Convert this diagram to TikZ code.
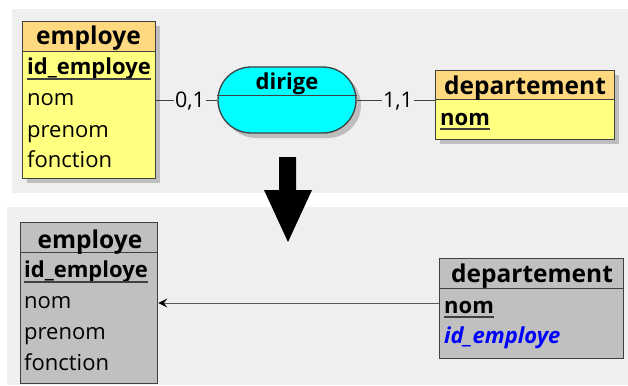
\documentclass[tikz,border=0pt]{standalone}
\usepackage{fontspec}
\setmainfont{Open Sans}
\usetikzlibrary{arrows.meta,shapes.misc}
\definecolor{bg}{HTML}{EFEFEF}
\definecolor{hdr}{HTML}{FFD980}
\definecolor{bodyy}{HTML}{FFFF80}
\definecolor{cyanf}{HTML}{00FFFF}
\definecolor{grayb}{HTML}{C0C0C0}
\definecolor{brd}{HTML}{404040}
\definecolor{fkc}{HTML}{0000FF}
\definecolor{shad}{HTML}{BEBEBE}
\begin{document}
\begin{tikzpicture}[x=1pt,y=-1pt,
  ent/.style={draw=brd, line width=1.3pt, inner sep=0pt, anchor=north west},
  txt/.style={inner sep=0pt, anchor=base west, font=\fontsize{22}{26}\selectfont},
  ttl/.style={inner sep=0pt, anchor=base, font=\fontsize{24.5}{28}\selectfont\bfseries},
  card/.style={inner sep=1pt, anchor=base, font=\fontsize{21.5}{25}\selectfont},
  link/.style={draw=brd, line width=0.8pt},
  ul/.style={line width=1.3pt, draw=brd}
]
\useasboundingbox (0,0) rectangle (628,385);
\fill[bg] (12,9) rectangle (628,193);
\fill[bg] (7,207) rectangle (628,385);

% shadows
\fill[shad] (27,26) rectangle (160,183);
\fill[shad] (440,75) rectangle (619,144);
\node[rounded rectangle, fill=shad, minimum width=138pt, minimum height=66pt, inner sep=0pt] (dirs) at (292,105) {};

% top employe
\node[ent, fill=hdr, minimum width=133pt, minimum height=30pt] (e1h) at (22,21) {};
\node[ent, fill=bodyy, minimum width=133pt, minimum height=127pt] (e1b) at (22,51) {};
\node[ttl] (e1t) at (88.5,45) {employe};
\node[txt] (e1k) at (27,75) {\bfseries id\_employe};
\draw[ul] ([yshift=-4pt]e1k.base west) -- ([yshift=-4pt]e1k.base east);
\node[txt] (e1a) at (27,106) {nom};
\node[txt] (e1c) at (27,137) {prenom};
\node[txt] (e1d) at (27,167) {fonction};

% dirige
\node[rounded rectangle, draw=brd, line width=1.3pt, fill=cyanf, minimum width=138pt, minimum height=66pt, inner sep=0pt] (dir) at (287,100) {};
\draw[brd, line width=1pt] ([yshift=4pt]dir.west) -- ([yshift=4pt]dir.east);
\node[inner sep=0pt, anchor=base, font=\fontsize{22}{26}\selectfont\bfseries] (dirt) at (287,90) {dirige};

% top departement
\node[ent, fill=hdr, minimum width=179pt, minimum height=29pt] (d1h) at (435,70) {};
\node[ent, fill=bodyy, minimum width=179pt, minimum height=40pt] (d1b) at (435,99) {};
\node[ttl] (d1t) at (525,95) {departement};
\node[txt] (d1k) at (440,125) {\bfseries nom};
\draw[ul] ([yshift=-4pt]d1k.base west) -- ([yshift=-4pt]d1k.base east);

% cardinalities
\node[card] (c01) at (190,107) {0,1};
\node[card] (c11) at (398,107) {1,1};
\draw[link] (c01.west -| e1b.east) -- (c01.west);
\draw[link] (c01.east) -- (c01.east -| dir.west);
\draw[link] (c11.west -| dir.east) -- (c11.west);
\draw[link] (c11.east) -- (c11.east -| d1h.west);

% big arrow
\fill[black] (279,157) -- (296,157) -- (296,190) -- (312,190) -- (288,242) -- (264,190) -- (279,190) -- cycle;

% bottom employe
\node[ent, fill=grayb, minimum width=137pt, minimum height=30pt] (e2h) at (20,222) {};
\node[ent, fill=grayb, minimum width=137pt, minimum height=131pt] (e2b) at (20,252) {};
\node[ttl] (e2t) at (90,248) {employe};
\node[txt] (e2k) at (24,277) {\bfseries id\_employe};
\draw[ul] ([yshift=-5pt]e2k.base west) -- ([yshift=-5pt]e2k.base east);
\node[txt] (e2a) at (24,308) {nom};
\node[txt] (e2c) at (24,339) {prenom};
\node[txt] (e2d) at (24,370) {fonction};

% bottom departement
\node[ent, fill=grayb, minimum width=184pt, minimum height=30pt] (d2h) at (439,258) {};
\node[ent, fill=grayb, minimum width=184pt, minimum height=70pt] (d2b) at (439,288) {};
\node[ttl] (d2t) at (532,282) {departement};
\node[txt] (d2k) at (444,313) {\bfseries nom};
\draw[ul] ([yshift=-4pt]d2k.base west) -- ([yshift=-4pt]d2k.base east);
\node[txt, text=fkc] (d2f) at (444,343) {\bfseries\itshape id\_employe};

% foreign key link
\coordinate (fk) at (300,303);
\draw[draw=gray!70!black, line width=0.8pt, -{Stealth[length=9pt,width=9pt,inset=3.5pt,black]}] (fk -| d2b.west) -- (fk -| e2b.east);
\end{tikzpicture}
\end{document}
